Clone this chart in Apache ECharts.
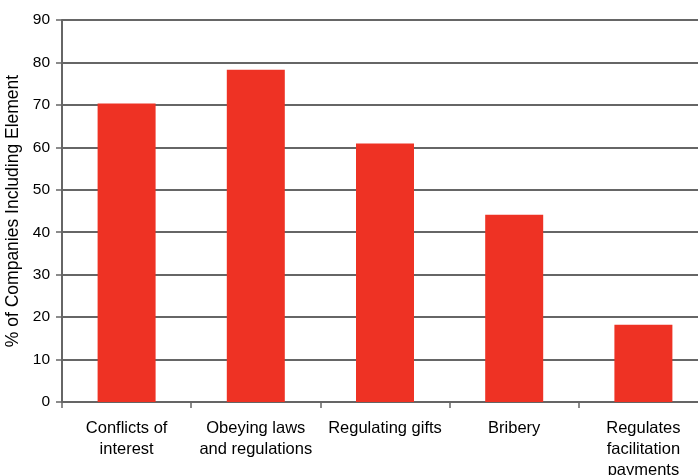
<!DOCTYPE html>
<html><head><meta charset="utf-8">
<script src="https://cdn.jsdelivr.net/npm/echarts@6/dist/echarts.min.js"></script>
<style>html,body{margin:0;padding:0;background:#fff}#c{width:698px;height:475px}</style>
</head><body><div id="c"></div>
<script>
const categories = ["Conflicts of\ninterest", "Obeying laws\nand regulations", "Regulating gifts", "Bribery", "Regulates\nfacilitation\npayments"];
const values = [70.3, 78.3, 60.9, 44.1, 18.2];
const yTitle = "% of Companies Including Element";
const FF = 'Liberation Sans, Arial, sans-serif';
const chart = echarts.init(document.getElementById('c'), null, {renderer: 'canvas'});
chart.setOption({
  animation: false,
  textStyle: {fontFamily: FF},
  grid: {left: 62, width: 646, top: 20, height: 382, containLabel: false, outerBoundsMode: 'none'},
  xAxis: {
    type: 'category', data: categories,
    axisLine: {lineStyle: {color: '#666', width: 1.5}},
    axisTick: {show: true, alignWithLabel: false, length: 6, lineStyle: {color: '#666', width: 1.5}},
    axisLabel: {color: '#000', fontSize: 16.5, margin: 16, lineHeight: 21, interval: 0, fontFamily: FF}
  },
  yAxis: {
    type: 'value', min: 0, max: 90, interval: 10,
    name: yTitle, nameLocation: 'middle', nameGap: 33, nameRotate: 90,
    nameTextStyle: {color: '#000', fontSize: 17.5, fontFamily: FF},
    axisLine: {show: true, lineStyle: {color: '#666', width: 2}},
    axisTick: {show: true, length: 6, lineStyle: {color: '#666', width: 1.5}},
    axisLabel: {color: '#000', fontSize: 15.5, margin: 12, fontFamily: FF},
    splitLine: {show: true, lineStyle: {color: '#333', width: 1.5}}
  },
  series: [{
    type: 'bar', data: values, barWidth: 58,
    itemStyle: {color: '#EE3224'}
  }]
});
</script></body></html>
